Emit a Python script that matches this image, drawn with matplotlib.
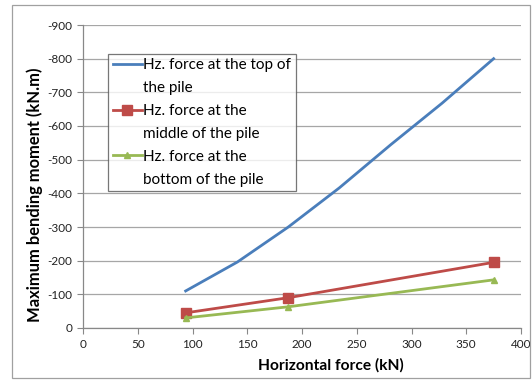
import matplotlib.pyplot as plt
from matplotlib.lines import Line2D
from matplotlib.patches import Rectangle

# horizontal force (kN) vs max bending moment (kN.m)
force_top = [93.75, 141, 187.5, 234, 281.25, 328, 375]
moment_top = [-110, -196, -300, -416, -545, -668, -800]

force_pts = [93.75, 187.5, 375]
moment_mid = [-45, -90, -195]
moment_bot = [-30, -63, -143]

x_ticks = [0, 50, 100, 150, 200, 250, 300, 350, 400]
y_ticks = [0, -100, -200, -300, -400, -500, -600, -700, -800, -900]

legend_lines = [
    ('Hz. force at the top of', 'the pile'),
    ('Hz. force at the', 'middle of the pile'),
    ('Hz. force at the', 'bottom of the pile'),
]

plt.rcParams['font.family'] = ['Lato', 'DejaVu Sans']
plt.rcParams['axes.unicode_minus'] = False

fig = plt.figure(figsize=(5.32, 3.83), dpi=100)
# outer chart frame
fig.patches.append(Rectangle((12 / 532, 5 / 383), 518 / 532, 373 / 383,
                             transform=fig.transFigure, fill=False,
                             edgecolor='#a0a0a0', linewidth=0.9))
ax = fig.add_axes([83 / 532, 55 / 383, 438 / 532, 303 / 383])

l1, = ax.plot(force_top, moment_top, color='#4a7ebb', lw=2)
l2, = ax.plot(force_pts, moment_mid, color='#be4b48', lw=2, marker='s',
              ms=6.5)
l3, = ax.plot(force_pts, moment_bot, color='#98b954', lw=2, marker='^',
              ms=5)

ax.set_xlim(0, 400)
ax.set_ylim(0, -900)
ax.set_xticks(x_ticks)
ax.set_yticks(y_ticks)
ax.tick_params(labelsize=8.5, color='#888888', length=4, width=0.8,
               labelcolor='#222222')
ax.tick_params(axis='x', pad=4)
ax.grid(axis='y', color='#a6a6a6', lw=0.9)
ax.set_axisbelow(True)
for s in ['top', 'right']:
    ax.spines[s].set_visible(False)
for s in ['left', 'bottom']:
    ax.spines[s].set_color('#888888')
    ax.spines[s].set_linewidth(0.9)

ax.set_xlabel('Horizontal force (kN)', fontsize=11.2, fontweight='bold')
ax.xaxis.set_label_coords(0.566, -0.1)
ax.set_ylabel('Maximum bending moment (kN.m)', fontsize=11.9,
              fontweight='bold')
ax.yaxis.set_label_coords(-0.091, 0.44)

# each label wraps onto a second row that has no line sample
blank = Line2D([], [], color='none')
handles, labels = [], []
for h, (first, second) in zip([l1, l2, l3], legend_lines):
    handles += [h, blank]
    labels += [first, second]

leg = ax.legend(handles, labels, loc='upper left',
                bbox_to_anchor=(0.057, 0.905), fontsize=11, frameon=True,
                fancybox=False, edgecolor='#555555', handlelength=1.9,
                handletextpad=0.1, borderpad=0.3, labelspacing=0.58,
                borderaxespad=0)
leg.get_frame().set_linewidth(0.9)

fig.savefig('out.png', dpi=100)
